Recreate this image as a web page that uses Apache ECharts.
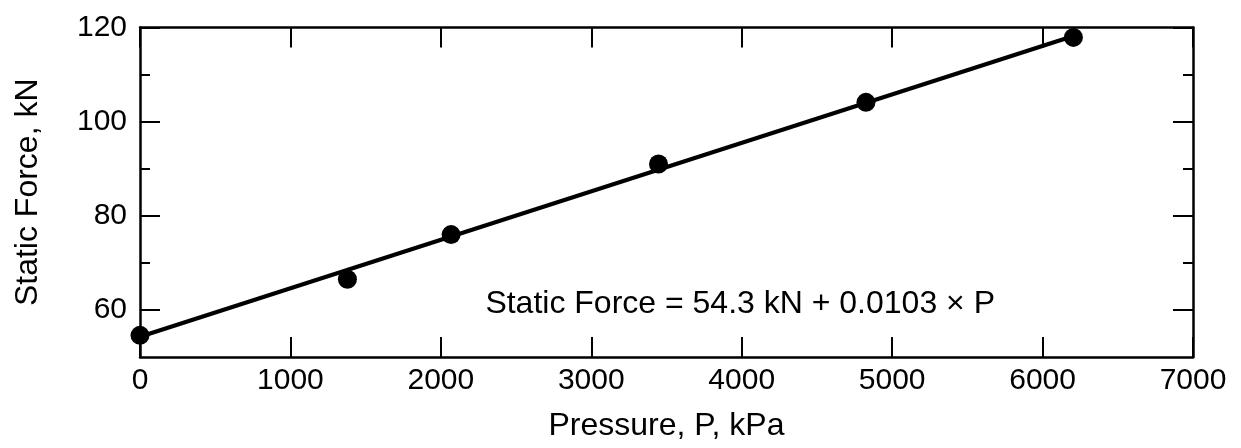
<!DOCTYPE html>
<html>
<head>
<meta charset="utf-8">
<script src="https://cdn.jsdelivr.net/npm/echarts@6/dist/echarts.min.js"></script>
<style>
html,body{margin:0;padding:0;background:#fff;}
#c{width:1241px;height:448px;}
</style>
</head>
<body>
<div id="c"></div>
<script>
// Measured points
const pressure = [0, 1379, 2068, 3447, 4826, 6205];
const force = [54.6, 66.5, 76.0, 91.0, 104.1, 117.9];
// Fitted line end points
const fitPressure = [0, 6205];
const fitForce = [54.3, 118.2];
// Axis ticks
const xTicks = [0, 1000, 2000, 3000, 4000, 5000, 6000, 7000];
const yMajor = [60, 80, 100, 120];
const yMinor = [70, 90, 110];
const xTitle = 'Pressure, P, kPa';
const yTitle = 'Static Force, kN';
const equation = 'Static Force = 54.3 kN + 0.0103 \u00d7 P';

const FONT = '"Liberation Sans", Arial, Helvetica, sans-serif';
const chart = echarts.init(document.getElementById('c'), null, {renderer: 'canvas'});

const axisLineOn = {show: true, onZero: false, lineStyle: {color: '#000', width: 2.5}};
const axisLineOff = {show: false, onZero: false};
const tickStyle = {color: '#000', width: 2};
const plain = v => String(v);
const yBase = {type: 'value', min: 50, max: 120, splitLine: {show: false}};

const option = {
  animation: false,
  backgroundColor: '#fff',
  grid: {left: 140, right: 48, top: 27.5, bottom: 91, containLabel: false},
  xAxis: [
    {
      type: 'value', min: 0, max: 7000, interval: 1000, position: 'bottom',
      axisLine: axisLineOn,
      splitLine: {show: false},
      axisTick: {show: true, inside: true, length: 20, lineStyle: tickStyle, customValues: xTicks},
      axisLabel: {show: true, customValues: xTicks, formatter: plain, color: '#000', fontFamily: FONT, fontSize: 30, margin: 9},
      name: xTitle, nameLocation: 'middle', nameGap: 53,
      nameTextStyle: {color: '#000', fontFamily: FONT, fontSize: 32}
    },
    {
      type: 'value', min: 0, max: 7000, interval: 1000, position: 'top',
      axisLine: axisLineOn,
      splitLine: {show: false},
      axisTick: {show: true, inside: true, length: 20, lineStyle: tickStyle, customValues: xTicks},
      axisLabel: {show: false}
    }
  ],
  yAxis: [
    Object.assign({}, yBase, {
      position: 'left',
      axisLine: axisLineOn,
      axisTick: {show: true, inside: true, length: 20, lineStyle: tickStyle, customValues: yMajor},
      axisLabel: {show: true, customValues: yMajor, formatter: plain, color: '#000', fontFamily: FONT, fontSize: 30, margin: 13},
      name: yTitle, nameLocation: 'middle', nameGap: 96, nameRotate: 90,
      nameTextStyle: {color: '#000', fontFamily: FONT, fontSize: 32}
    }),
    Object.assign({}, yBase, {
      position: 'right',
      axisLine: axisLineOn,
      axisTick: {show: true, inside: true, length: 20, lineStyle: tickStyle, customValues: yMajor},
      axisLabel: {show: false}
    }),
    Object.assign({}, yBase, {
      position: 'left',
      axisLine: axisLineOff,
      axisTick: {show: true, inside: true, length: 10, lineStyle: tickStyle, customValues: yMinor},
      axisLabel: {show: false}
    }),
    Object.assign({}, yBase, {
      position: 'right',
      axisLine: axisLineOff,
      axisTick: {show: true, inside: true, length: 10, lineStyle: tickStyle, customValues: yMinor},
      axisLabel: {show: false}
    })
  ],
  series: [
    {
      type: 'line', xAxisIndex: 0, yAxisIndex: 0,
      data: fitPressure.map((p, i) => [p, fitForce[i]]),
      showSymbol: false, symbol: 'none',
      lineStyle: {color: '#000', width: 4},
      z: 2, silent: true
    },
    {
      type: 'scatter', xAxisIndex: 0, yAxisIndex: 0,
      data: pressure.map((p, i) => [p, force[i]]),
      symbol: 'circle', symbolSize: 19,
      itemStyle: {color: '#000', opacity: 1},
      z: 3
    }
  ],
  graphic: [
    {
      type: 'text', right: 1241 - 995, top: 288,
      style: {text: equation, fill: '#000', font: '32px ' + FONT, textAlign: 'right'}
    }
  ]
};
chart.setOption(option);
</script>
</body>
</html>
